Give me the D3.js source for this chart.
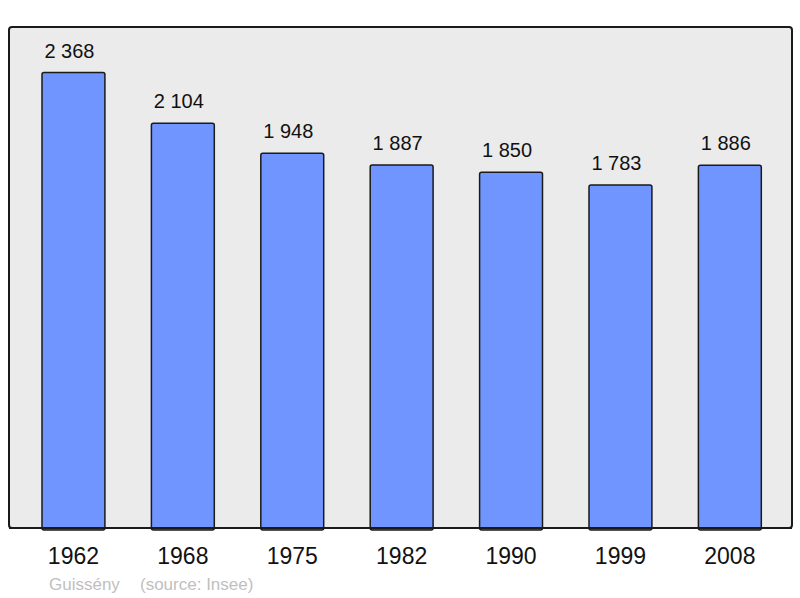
<!DOCTYPE html>
<html><head><meta charset="utf-8">
<script src="https://cdn.jsdelivr.net/npm/d3@7"></script>
<style>body{margin:0;background:#fff}svg{display:block}</style>
</head><body>
<svg id="c" width="800" height="598"></svg>
<script>
const years = ["1962","1968","1975","1982","1990","1999","2008"];
const population = [2368, 2104, 1948, 1887, 1850, 1783, 1886];
const valueLabels = ["2 368","2 104","1 948","1 887","1 850","1 783","1 886"];
const townName = "Guissény";
const sourceText = "(source: Insee)";

const svg = d3.select("#c");
const font = "Liberation Sans, Arial, sans-serif";
const plot = {x0: 9, x1: 792, y0: 27, y1: 528};

svg.append("rect").attr("x", plot.x0).attr("y", plot.y0)
  .attr("width", plot.x1 - plot.x0).attr("height", plot.y1 - plot.y0)
  .attr("rx", 3).attr("fill", "#ebebeb").attr("stroke", "#1a1a1a").attr("stroke-width", 2);

const step = 109.4, pi = 0.425, po = 0.3;
const xs = 42 - po * step;
const x = d3.scaleBand().domain(years)
  .range([xs, xs + step * (years.length - pi + 2 * po)])
  .paddingInner(pi).paddingOuter(po);
const y = d3.scaleLinear().domain([0, d3.max(population) * 1.1]).range([plot.y1, plot.y0]);

const data = years.map((yr, i) => ({yr, v: population[i], lab: valueLabels[i]}));

svg.selectAll("rect.bar").data(data).join("rect").attr("class", "bar")
  .attr("x", d => x(d.yr)).attr("y", d => y(d.v))
  .attr("width", x.bandwidth()).attr("height", d => plot.y1 - y(d.v) + 2)
  .attr("rx", 2).attr("fill", "#7095ff").attr("stroke", "#1a1a1a").attr("stroke-width", 1.5);

svg.append("line").attr("x1", plot.x0).attr("x2", plot.x1).attr("y1", plot.y1).attr("y2", plot.y1)
  .attr("stroke", "#1a1a1a").attr("stroke-width", 2);

svg.selectAll("text.val").data(data).join("text").attr("class", "val")
  .attr("x", d => x(d.yr) + x.bandwidth() / 2 - 4).attr("y", d => y(d.v) - 15)
  .attr("text-anchor", "middle").attr("font-family", font).attr("font-size", 20)
  .attr("fill", "#111").text(d => d.lab);

const xAxis = d3.axisBottom(x).tickSize(0).tickPadding(0);
const ax = svg.append("g").attr("transform", `translate(0,${plot.y1 + 20})`).call(xAxis);
ax.select(".domain").remove();
ax.selectAll("text").attr("font-family", font).attr("font-size", 23).attr("fill", "#111")
  .attr("dy", "0.71em");

svg.append("text").attr("x", 49).attr("y", 590).attr("font-family", font).attr("font-size", 17)
  .attr("fill", "#c0c0c0").text(townName);
svg.append("text").attr("x", 140).attr("y", 590).attr("font-family", font).attr("font-size", 17)
  .attr("fill", "#c0c0c0").text(sourceText);
</script>
</body></html>
